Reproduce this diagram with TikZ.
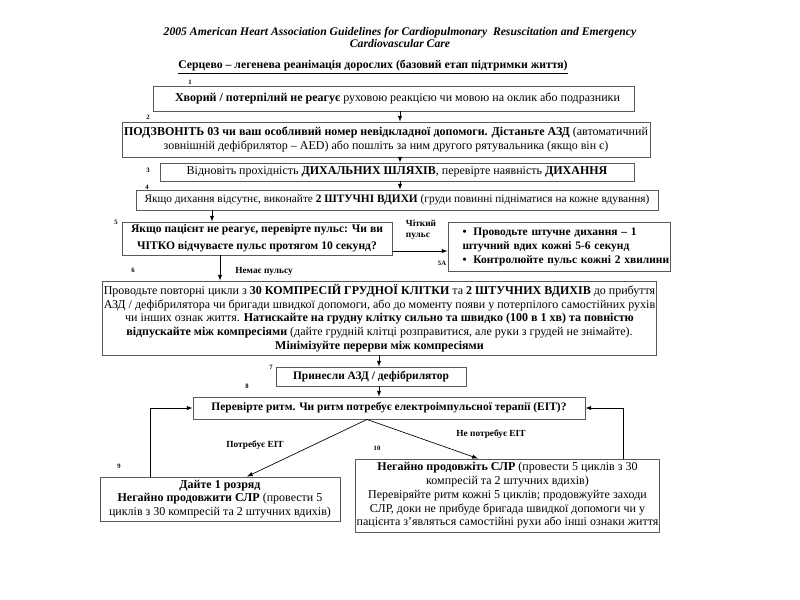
\documentclass[tikz,border=0pt]{standalone}
\usepackage{fontspec}
\setmainfont{Liberation Serif}
\usepackage{tikz}
\usetikzlibrary{calc, positioning}

\tikzset{
  bx/.style 2 args={draw=black!65, line width=0.7pt, minimum width=#1*0.75pt,
    minimum height=#2*0.75pt, inner sep=1pt, align=center,
    font=\fontsize{9}{10.3}\selectfont},
  num/.style={font=\fontsize{5}{6}\selectfont\bfseries, inner sep=0pt},
  lbl/.style={font=\fontsize{7}{8.5}\selectfont\bfseries, inner sep=0pt, align=left},
  arr/.style={->, line width=0.5pt},
}

\begin{document}
\begin{tikzpicture}[>=latex, x=0.75pt, y=-0.75pt]
    \useasboundingbox (0,0) rectangle (800,600);

    % 1. Заголовок
    \node (title) at (400,37.5) [align=center, font=\fontsize{8.75}{9.5}\selectfont\bfseries\itshape]
        {2005 American Heart Association Guidelines for Cardiopulmonary\ \ Resuscitation and Emergency\\Cardiovascular Care};
    \node (sub) at (373,67) [font=\fontsize{8.8}{10}\selectfont\bfseries]
        {\underline{Серцево – легенева реанімація дорослих (базовий етап підтримки життя)}};

    % 2. Блоки алгоритму
    \node (b1) at (393.5,98.5) [bx={481}{25}]
        {\hspace*{6pt}\textbf{Хворий / потерпілий не реагує} руховою реакцією чи мовою на оклик або подразники};
    \node (b2) at (386,139.5) [bx={528}{35}]
        {\textbf{ПОДЗВОНІТЬ 03 чи ваш особливий номер невідкладної допомоги. Дістаньте АЗД} (автоматичний\\
         зовнішній дефібрилятор – AED) або пошліть за ним другого рятувальника (якщо він є)};
    \node (b3) at (397,172) [bx={474}{18}]
        {Відновіть прохідність \textbf{ДИХАЛЬНИХ ШЛЯХІВ}, перевірте наявність \textbf{ДИХАННЯ}};
    \node (b4) at (397,200) [bx={522}{20}, font=\fontsize{8.5}{10}\selectfont]
        {Якщо дихання відсутнє, виконайте \textbf{2 ШТУЧНІ ВДИХИ} (груди повинні підніматися на кожне вдування)};
    \node (b5) at (257,238.5) [bx={270}{33}, font=\fontsize{8.7}{12.75}\selectfont\bfseries]
        {Якщо пацієнт не реагує, перевірте пульс: Чи ви\\ЧІТКО відчуваєте пульс протягом 10 секунд?};
    \node (b5a) at (559,246.5) [bx={222}{49}, inner xsep=0pt, text width=222*0.75pt, align=left,
        font=\fontsize{8.6}{10.5}\selectfont\bfseries]
        {\hspace*{11pt}\textbullet\hspace{5pt}Проводьте штучне дихання – 1\\
         \hspace*{11pt}штучний вдих кожні 5-6 секунд\\
         \hspace*{11pt}\textbullet\hspace{5pt}Контролюйте пульс кожні 2 хвилини};
    \node (b6) at (379.5,318) [bx={553}{74}]
        {Проводьте повторні цикли з \textbf{30 КОМПРЕСІЙ ГРУДНОЇ КЛІТКИ} та \textbf{2 ШТУЧНИХ ВДИХІВ} до прибуття\\
         АЗД / дефібрилятора чи бригади швидкої допомоги, або до моменту появи у потерпілого самостійних рухів\\
         чи інших ознак життя. \textbf{Натискайте на грудну клітку сильно та швидко (100 в 1 хв) та повністю}\\
         \textbf{відпускайте між компресіями} (дайте грудній клітці розправитися, але руки з грудей не знімайте).\\
         \textbf{Мінімізуйте перерви між компресіями}};
    \node (b7) at (371,376.5) [bx={190}{19}, font=\fontsize{8.6}{10}\selectfont\bfseries]
        {Принесли АЗД / дефібрилятор};
    \node (b8) at (389,408) [bx={392}{22}, font=\fontsize{8.6}{10}\selectfont\bfseries]
        {Перевірте ритм. Чи ритм потребує електроімпульсної терапії (ЕІТ)?};
    \node (b9) at (220,499) [bx={240}{44}]
        {\textbf{Дайте 1 розряд}\\\textbf{Негайно продовжити СЛР} (провести 5\\циклів з 30 компресій та 2 штучних вдихів)};
    \node (b10) at (507.5,495.5) [bx={303}{73}]
        {\textbf{Негайно продовжіть СЛР} (провести 5 циклів з 30\\компресій та 2 штучних вдихів)\\
         Перевіряйте ритм кожні 5 циклів; продовжуйте заходи\\
         СЛР, доки не прибуде бригада швидкої допомоги чи у\\
         пацієнта з’являться самостійні рухи або інші ознаки життя};

    % 3. Номери кроків
    \node[num] at (190,82) {1};
    \node[num] at (148,117) {2};
    \node[num] at (148,170) {3};
    \node[num] at (147,187) {4};
    \node[num] at (116,222) {5};
    \node[num] at (442,263) {5A};
    \node[num] at (133,270) {6};
    \node[num] at (271,367) {7};
    \node[num] at (247,386) {8};
    \node[num] at (119,466) {9};
    \node[num] at (377,448) {10};

    % 4. Підписи стрілок
    \node[lbl] (pulse) at (421,230) {Чіткий\\пульс};
    \node[lbl] (nopulse) at (264,271) {Немає пульсу};
    \node[lbl] (shock) at (255,445) {Потребує ЕІТ};
    \node[lbl] (noshock) at (491,434) {Не потребує ЕІТ};

    % 5. Стрілки
    \coordinate (cA) at (400,0);
    \coordinate (cB) at (212,0);
    \coordinate (cC) at (220,0);
    \coordinate (cD) at (379,0);
    \coordinate (cL) at (150,0);
    \coordinate (cR) at (623,0);
    \coordinate (cF) at (367,0);
    \coordinate (c9) at (247,0);
    \coordinate (c10) at (478,0);
    \coordinate (r5) at (0,251);

    \draw[arr] (b1.south -| cA) -- (b2.north -| cA);
    \draw[arr] (b2.south -| cA) -- (b3.north -| cA);
    \draw[arr] (b3.south -| cA) -- (b4.north -| cA);
    \draw[arr] (b4.south -| cB) -- (b5.north -| cB);
    \draw[arr] (b5.east |- r5) -- (b5a.west |- r5);
    \draw[arr] (b5.south -| cC) -- (b6.north -| cC);
    \draw[arr] (b6.south -| cD) -- (b7.north -| cD);
    \draw[arr] (b7.south -| cD) -- (b8.north -| cD);
    \draw[arr] (b8.south -| cF) -- (b9.north -| c9);
    \draw[arr] (b8.south -| cF) -- (b10.north -| c10);
    \draw[arr] (b9.north -| cL) |- (b8.west);
    \draw[arr] (b10.north -| cR) |- (b8.east);
\end{tikzpicture}
\end{document}
